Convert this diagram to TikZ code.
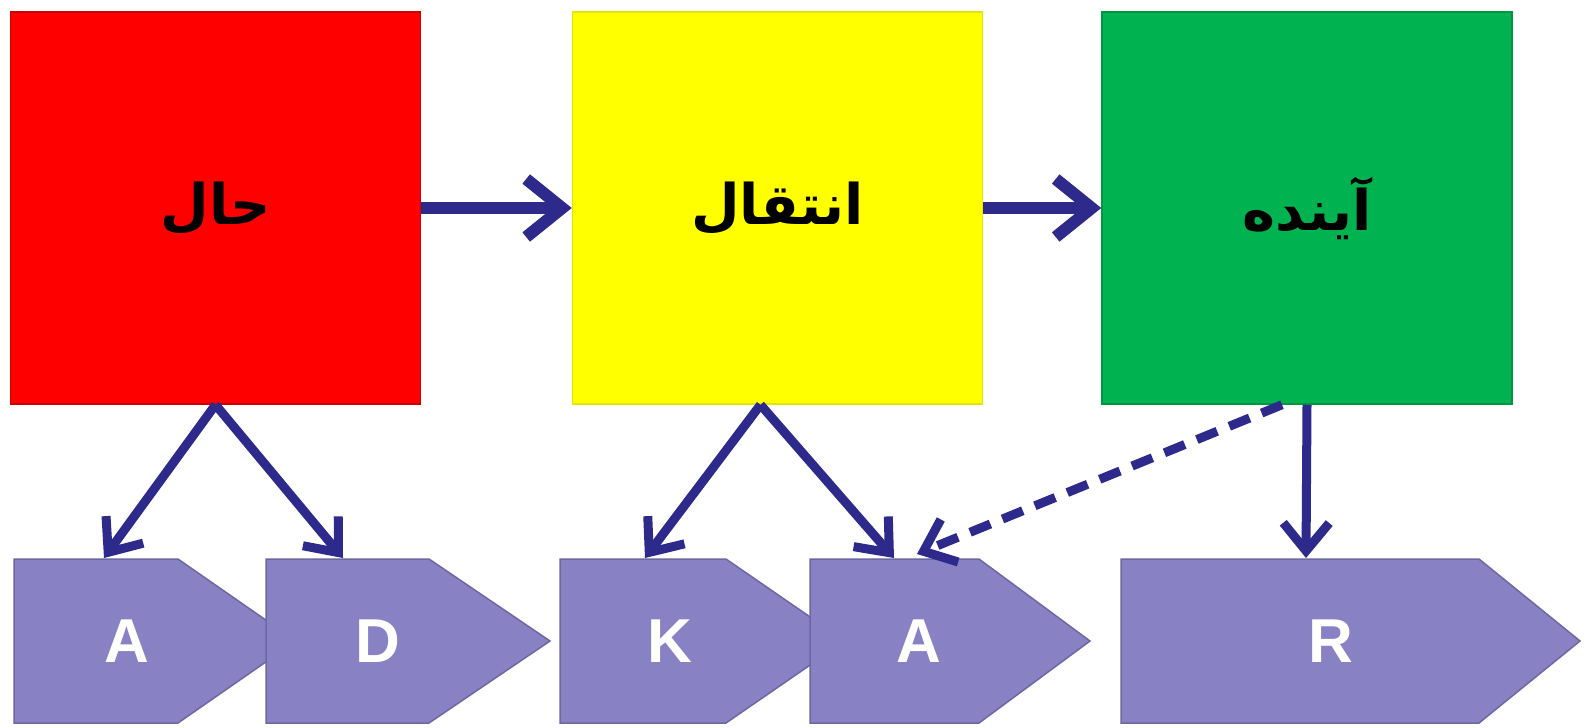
\documentclass[tikz,border=0pt]{standalone}
\usepackage{fontspec}
\setmainfont{Liberation Sans}
\newfontfamily\arabicfont[Script=Arabic]{DejaVu Sans}
\TeXXeTstate=1
\usetikzlibrary{arrows.meta}
\definecolor{navy}{RGB}{46,42,140}
\definecolor{chevfill}{RGB}{136,130,196}
\definecolor{chevline}{RGB}{108,104,160}
\definecolor{boxgreen}{RGB}{0,178,80}
\definecolor{boxred}{RGB}{255,0,0}
\definecolor{boxyellow}{RGB}{255,255,0}
\begin{document}
\begin{tikzpicture}[x=1pt,y=-1pt,
  bigbox/.style={minimum width=410pt,minimum height=392pt,inner sep=0pt,
    font=\arabicfont\bfseries\fontsize{56}{60}\selectfont, text=black},
  chev/.style={fill=chevfill,draw=chevline,line width=1.5pt,line join=miter},
  letter/.style={text=white,font=\bfseries\fontsize{62}{64}\selectfont,inner sep=0pt},
  conn/.style={draw=navy,line width=12pt,-{Straight Barb[length=36pt,width=58pt]}},
  sconn/.style={draw=navy,line width=9pt,-{Straight Barb[length=28pt,width=46pt]}},
  dconn/.style={sconn,dash pattern=on 22pt off 13pt}
]
\useasboundingbox (0,0) rectangle (1593,728);
\fill[white] (0,0) rectangle (1593,728);

% boxes
\node[bigbox,fill=boxred,draw=boxred!80!black,line width=1.5pt] (hal) at (215.5,208) {\beginR حال\endR};
\node[bigbox,fill=boxyellow,draw=boxyellow!90!black,line width=1.5pt] (enteghal) at (777.5,208) {\beginR انتقال\endR};
\node[bigbox,fill=boxgreen,draw=boxgreen!85!black,line width=1.5pt] (ayande) at (1307,208) {\beginR آینده\endR};

% chevrons
\path[chev] (14,559) -- (178,559) -- (296,641) -- (178,723) -- (14,723) -- cycle;
\path[chev] (266,559) -- (429,559) -- (550,641) -- (429,723) -- (266,723) -- cycle;
\path[chev] (560,559) -- (726,559) -- (845,641) -- (726,723) -- (560,723) -- cycle;
\path[chev] (810,559) -- (979,559) -- (1090,641) -- (979,723) -- (810,723) -- cycle;
\path[chev] (1121,559) -- (1479,559) -- (1580,641) -- (1479,723) -- (1121,723) -- cycle;

\node[letter] (lA1) at (127,641) {A};
\node[letter] (lD) at (378,641) {D};
\node[letter] (lK) at (670,641) {K};
\node[letter] (lA2) at (919,641) {A};
\node[letter] (lR) at (1331,641) {R};

% arrow targets on chevron tops
\coordinate (tA1) at (104,558);
\coordinate (tD) at (343,558);
\coordinate (tK) at (645,558);
\coordinate (tA2) at (894,558);
\coordinate (tA2b) at (917,554);
\coordinate (tR) at (1306,558);

% connectors
\draw[conn] (hal.east) -- (enteghal.west);
\draw[conn] (enteghal.east) -- (ayande.west);
\draw[sconn] (hal.south) -- (tA1);
\draw[sconn] (hal.south) -- (tD);
\draw[sconn] ([xshift=-17pt]enteghal.south) -- (tK);
\draw[sconn] ([xshift=-17pt]enteghal.south) -- (tA2);
\draw[sconn] (ayande.south) -- (tR);
\draw[dconn] ([xshift=-25pt]ayande.south) -- (tA2b);
\end{tikzpicture}
\end{document}
